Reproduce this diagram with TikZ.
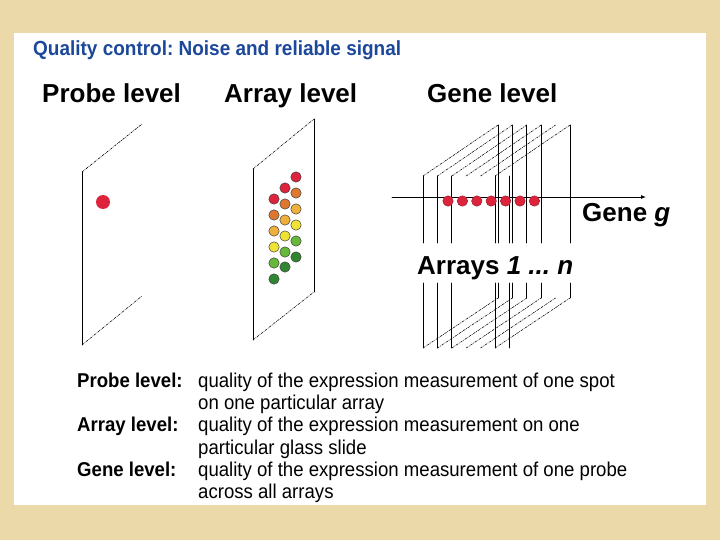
\documentclass[tikz,border=0pt]{standalone}
\usepackage{fontspec}
\setmainfont{Liberation Sans}
\newfontfamily\slidefont[FakeStretch=0.93]{Liberation Sans}
\usetikzlibrary{calc, positioning}
\usetikzlibrary{arrows.meta}
\frenchspacing

\definecolor{parchment}{RGB}{236,217,170}
\definecolor{titleblue}{RGB}{28,72,155}
\definecolor{spotred}{RGB}{222,36,60}
\definecolor{spotorange}{RGB}{222,120,48}
\definecolor{spotamber}{RGB}{238,176,58}
\definecolor{spotyellow}{RGB}{238,226,52}
\definecolor{spotgreen}{RGB}{102,184,58}
\definecolor{spotdkgreen}{RGB}{48,134,48}

\tikzset{
  slideside/.style={line width=0.8pt},
  slideedge/.style={line width=0.55pt, dash pattern=on 2.2pt off 1.2pt on 0.6pt off 1.2pt},
  spot/.style={draw=black!75, line width=0.5pt},
  heading/.style={font=\fontsize{26}{30}\selectfont\bfseries, inner sep=0pt, anchor=base west},
  bodytext/.style={font=\slidefont\fontsize{20}{22}\selectfont, inner sep=0pt, anchor=base west},
  bodylabel/.style={bodytext, font=\slidefont\fontsize{20}{22}\selectfont\bfseries}
}

\begin{document}
\begin{tikzpicture}[x=1pt, y=-1pt, line join=round, line cap=round]
\useasboundingbox (0,0) rectangle (720,540);
\def\geneshift{14.4}
\def\genewidth{75}

% Page and panel
\fill[parchment] (0,0) rectangle (720,540);
\fill[white] (14,33) rectangle (706,505);

% Title and headings
\node[anchor=base west, inner sep=0pt, text=titleblue, font=\slidefont\fontsize{20.4}{24}\selectfont\bfseries] (title) at (33,56) {Quality control: Noise and reliable signal};
\node[heading] (probehead) at (42,103) {Probe level};
\node[heading] (arrayhead) at (224,103) {Array level};
\node[heading] (genehead) at (427,103) {Gene level};

% Probe level: one slide, one spot
\coordinate (P1) at (82,172);
\coordinate (P2) at (142,124);
\coordinate (P3) at (82,345);
\coordinate (P4) at (142,296);
\draw[slideside] (P1) -- (P3);
\draw[slideedge] (P1) -- (P2);
\draw[slideedge] (P3) -- (P4);
\fill[spotred] (103,202) circle (7);

% Array level: one slide, many spots
\coordinate (A1) at (253,169);
\coordinate (A2) at (314,119);
\coordinate (A3) at (253,340);
\coordinate (A4) at (314,292);
\draw[slideside] (A1) -- (A3);
\draw[slideside] (A2) -- (A4);
\draw[slideedge] (A1) -- (A2);
\draw[slideedge] (A3) -- (A4);
\foreach \x/\y/\c in {274/199/spotred, 274/215/spotorange, 274/231/spotamber,
                      274/247/spotyellow, 274/263/spotgreen, 274/279/spotdkgreen,
                      285/188/spotred, 285/204/spotorange, 285/220/spotamber,
                      285/236/spotyellow, 285/252/spotgreen, 285/267/spotdkgreen,
                      296/177/spotred, 296/193/spotorange, 296/209/spotamber,
                      296/225/spotyellow, 296/241/spotgreen, 296/257/spotdkgreen}
  \filldraw[spot, fill=\c] (\x,\y) circle (5.2);

% Gene level: stack of slides
\foreach \i in {0,...,5} {
  \pgfmathsetmacro{\lx}{423+\geneshift*\i}
  \pgfmathsetmacro{\rx}{\lx+\genewidth}
  \draw[slideedge] (\lx,176) -- (\rx,125);
  \draw[slideedge] (\lx,348) -- (\rx,298);
}
\foreach \i in {0,1,2,5,6} {
  \pgfmathsetmacro{\lx}{423+\geneshift*\i}
  \draw[slideside] (\lx,176) -- (\lx,243);
  \draw[slideside] (\lx,283) -- (\lx,348);
}
\foreach \i in {0,1,2,3,5} {
  \pgfmathsetmacro{\rx}{423+\geneshift*\i+\genewidth}
  \draw[slideside] (\rx,125) -- (\rx,243);
  \draw[slideside] (\rx,283) -- (\rx,298);
}

% Gene axis with one spot per array
\coordinate (axisstart) at (392,197);
\coordinate (axisend) at (646,197);
\draw[line width=0.8pt, -{Latex[length=5pt, width=4pt]}] (axisstart) -- (axisend);
\foreach \i in {0,...,6}
  \filldraw[spot, draw=spotred!70!black, fill=spotred] (448+\geneshift*\i,201) circle (5.2);

\node[heading] (genelabel) at (582,222) {Gene \textit{g}};
\node[heading] (arrayslabel) at (417,274) {Arrays \textit{1 ... n}};

% Explanations
\node[bodylabel] (probelabel) at (77,387) {Probe level:};
\node[bodytext] (probetext) at (198,387) {quality of the expression measurement of one spot};
\node[bodytext] (probetextb) at (198,409) {on one particular array};
\node[bodylabel] (arraylabel) at (77,431) {Array level:};
\node[bodytext] (arraytext) at (198,431) {quality of the expression measurement on one};
\node[bodytext] (arraytextb) at (198,454) {particular glass slide};
\node[bodylabel] (genelevel) at (77,476) {Gene level:};
\node[bodytext] (genetext) at (198,476) {quality of the expression measurement of one probe};
\node[bodytext] (genetextb) at (198,498) {across all arrays};
\end{tikzpicture}
\end{document}
